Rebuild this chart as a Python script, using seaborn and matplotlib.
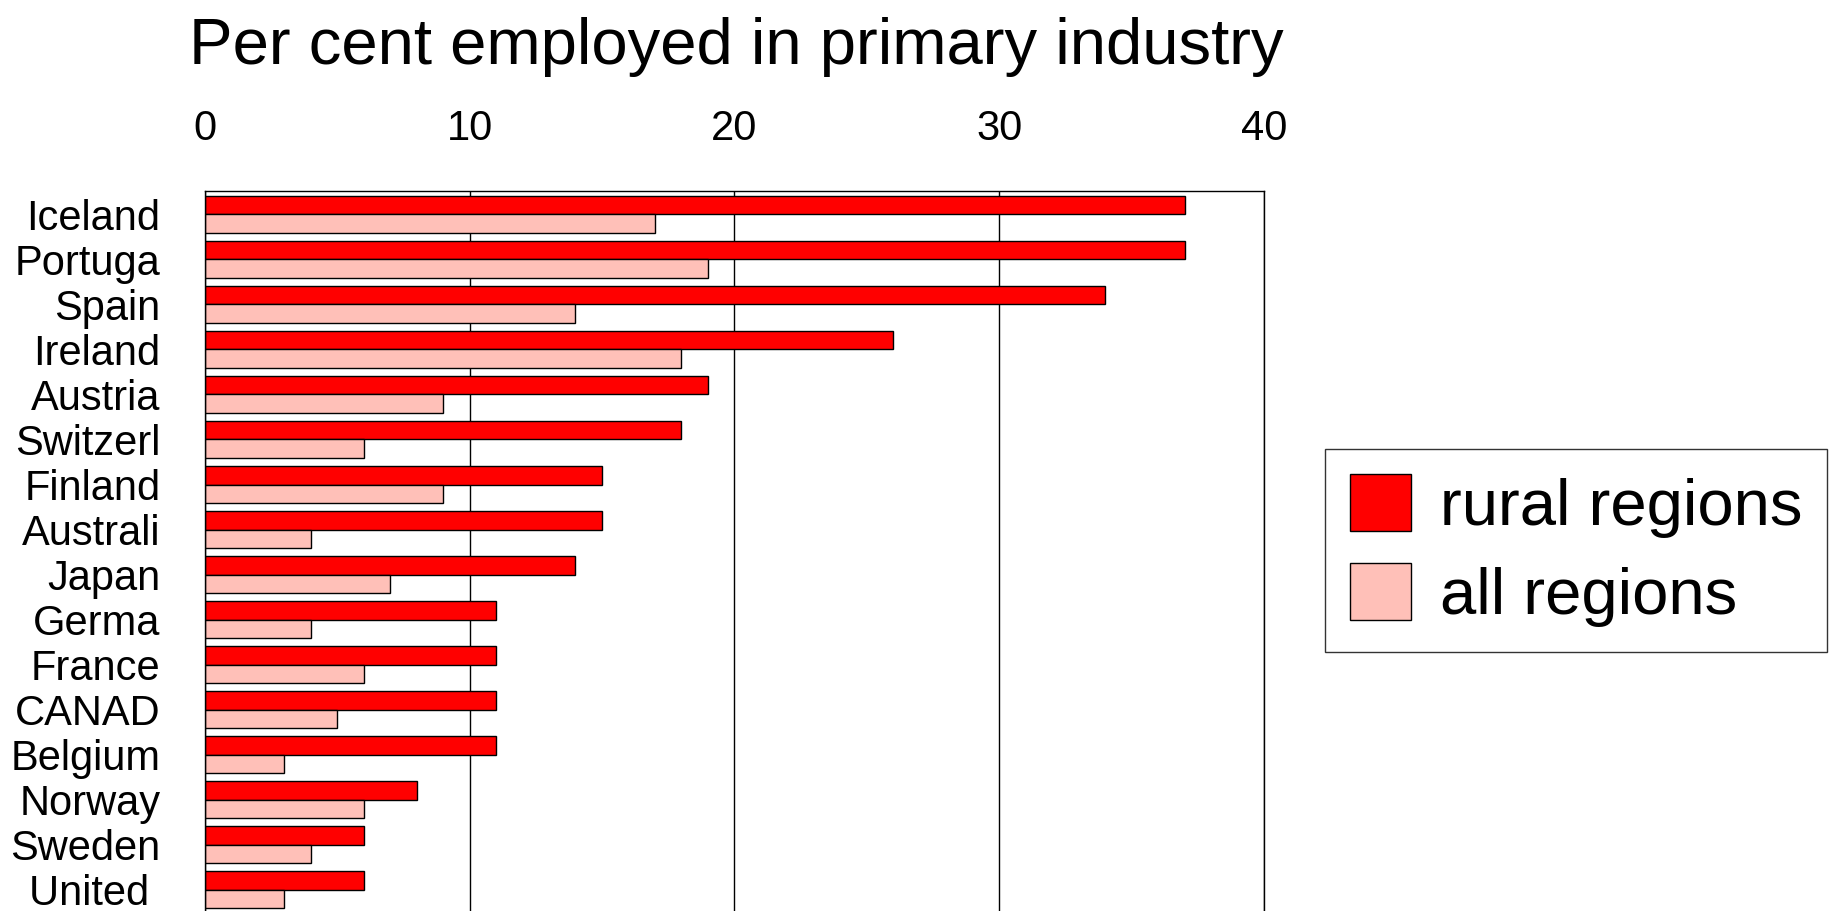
import matplotlib
matplotlib.use("Agg")
import matplotlib.pyplot as plt
import seaborn as sns
import pandas as pd

countries = ["Iceland", "Portuga", "Spain", "Ireland", "Austria", "Switzerl",
             "Finland", "Australi", "Japan", "Germa", "France", "CANAD",
             "Belgium", "Norway", "Sweden", "United "]
rural = [37, 37, 34, 26, 19, 18, 15, 15, 14, 11, 11, 11, 11, 8, 6, 6]
all_regions = [17, 19, 14, 18, 9, 6, 9, 4, 7, 4, 6, 5, 3, 6, 4, 3]
series_names = ["rural regions", "all regions"]
xticks = [0, 10, 20, 30, 40]
title = "Per cent employed in primary industry"

df = pd.DataFrame({
    "country": countries * 2,
    "value": rural + all_regions,
    "series": [series_names[0]] * len(countries) + [series_names[1]] * len(countries),
})

sns.set_style("white")
plt.rcParams["font.family"] = ["Liberation Sans", "DejaVu Sans"]
plt.rcParams["text.color"] = "black"
plt.rcParams["xtick.color"] = "black"
plt.rcParams["ytick.color"] = "black"
plt.rcParams["axes.labelcolor"] = "black"

fig = plt.figure(figsize=(18.34, 9.11), dpi=100)
ax = fig.add_axes([204.7 / 1834, -0.0022, (1264 - 204.7) / 1834, 0.7925])

palette = {series_names[0]: "#FF0000", series_names[1]: "#FFC0B8"}
sns.barplot(data=df, x="value", y="country", hue="series", orient="h",
            palette=palette, width=0.83, saturation=1, ax=ax,
            edgecolor="black", linewidth=1.0, order=countries,
            hue_order=series_names, legend=True, errorbar=None)

ax.set_xlim(0, 40)
ax.set_ylim(len(countries) - 0.48, -0.52)
ax.set_xticks(xticks)
ax.xaxis.tick_top()
ax.tick_params(axis="x", length=0, labelsize=30, pad=30, colors="black")
ax.tick_params(axis="y", length=0, labelsize=30, pad=32, colors="black")
ax.set_xlabel("")
ax.set_ylabel("")
ax.grid(axis="x", color="black", linewidth=1.0)
ax.grid(axis="y", visible=False)
ax.set_axisbelow(True)
for side in ["top", "right", "left"]:
    ax.spines[side].set_visible(True)
    ax.spines[side].set_color("black")
    ax.spines[side].set_linewidth(1.0)
ax.spines["bottom"].set_visible(False)

handles, labels = ax.get_legend_handles_labels()
ax.legend_.remove()
leg = fig.legend(handles, labels, loc="upper left",
                 bbox_to_anchor=(1325 / 1834, 1 - 449 / 911),
                 fontsize=47, frameon=True, fancybox=False, shadow=False,
                 edgecolor="black", handlelength=0.93, handleheight=0.98,
                 handletextpad=0.45, labelspacing=0.38, borderpad=0.38,
                 borderaxespad=0)
leg.get_frame().set_linewidth(1.0)
for t in leg.get_texts():
    t.set_color("black")

fig.text(189 / 1834, 1 - 64 / 911, title, fontsize=47, ha="left",
         va="baseline", color="black")

fig.savefig("out.png", dpi=100)
